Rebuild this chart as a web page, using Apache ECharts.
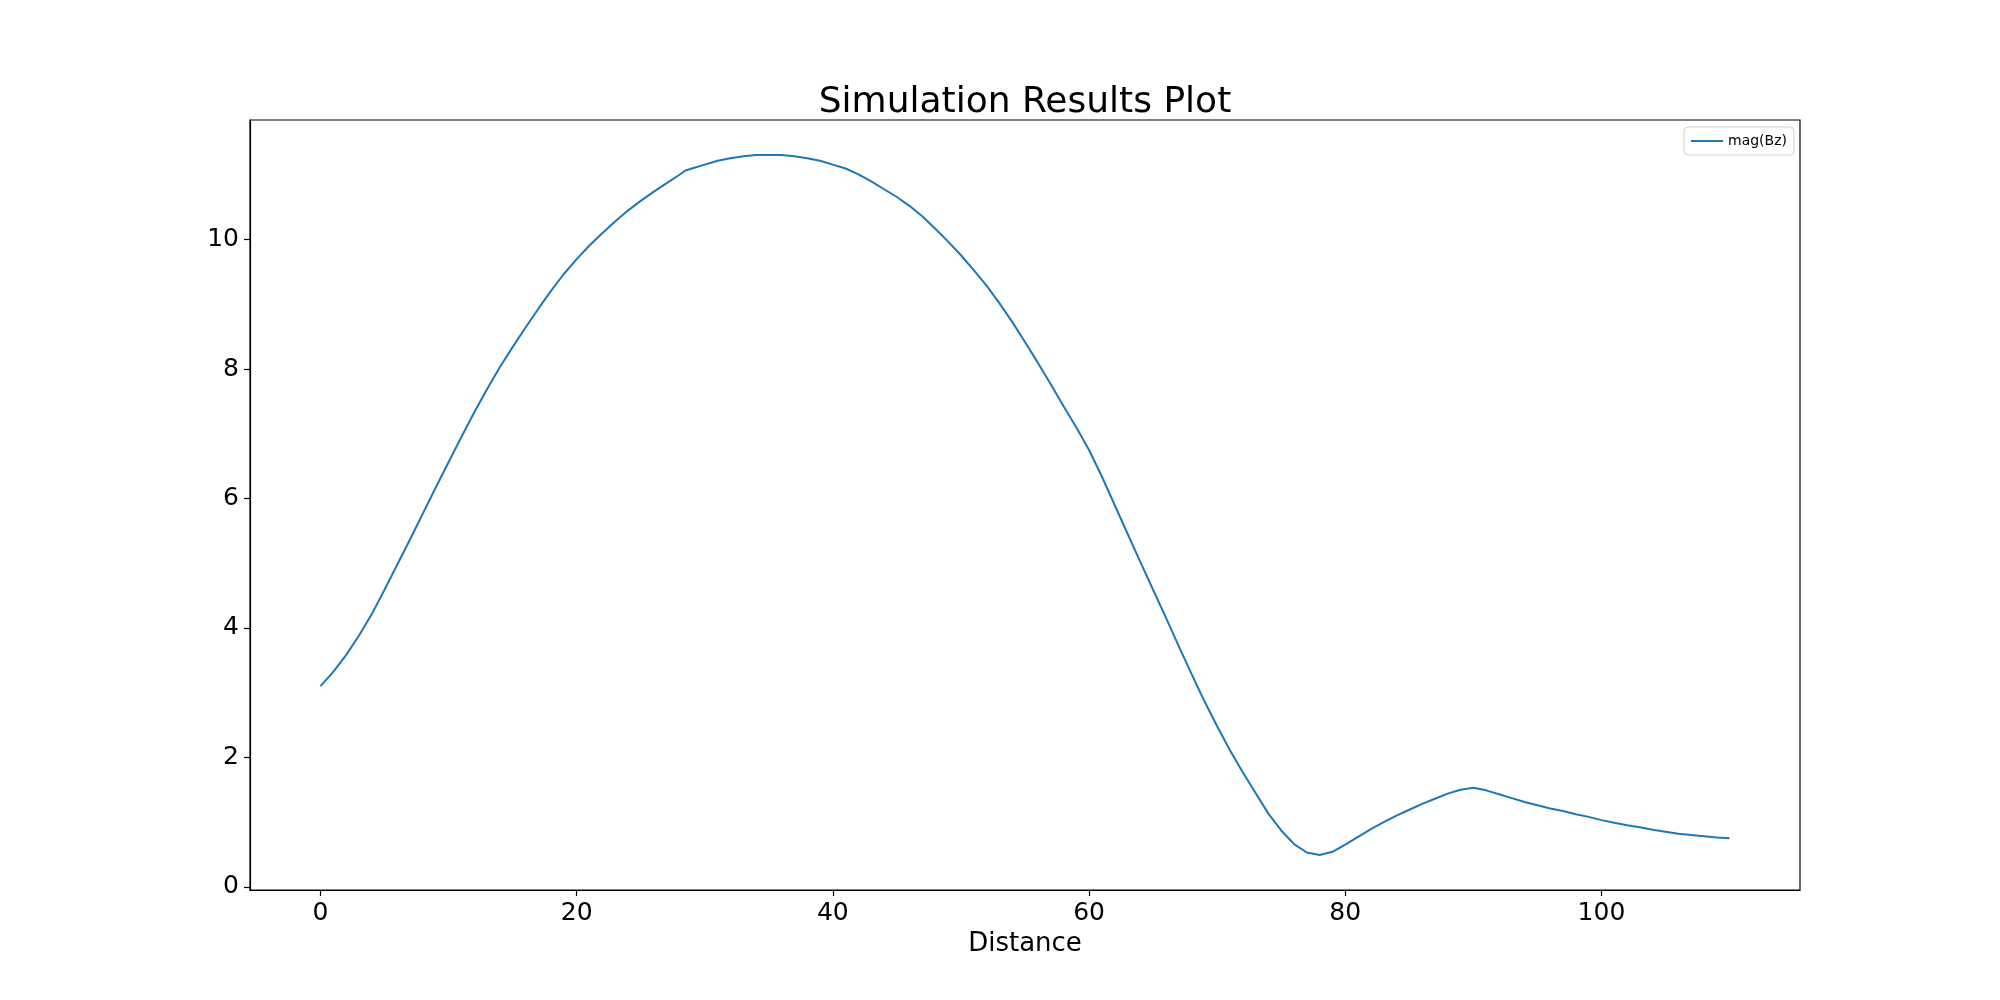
<!DOCTYPE html>
<html>
<head>
<meta charset="utf-8">
<script src="https://cdn.jsdelivr.net/npm/echarts@6/dist/echarts.min.js"></script>
<style>html,body{margin:0;padding:0;background:#fff;}#c{width:2000px;height:1000px;}</style>
</head>
<body>
<div id="c"></div>
<script>
const distance = [0,1,2,3,4,5,6,7,8,9,10,11,12,13,14,15,16,17,18,19,20,21,22,23,24,25,26,27,28,28.5,29,30,31,32,33,34,35,36,37,38,39,40,41,42,43,44,45,46,47,48,49,50,51,52,53,54,55,56,57,58,59,60,61,62,63,64,65,66,67,68,69,70,71,72,73,74,75,76,77,78,79,80,81,82,83,84,85,86,87,88,89,90,91,92,93,94,95,96,97,98,99,100,101,102,103,104,105,106,107,108,109,110];
const magBz = [3.10,3.32,3.58,3.88,4.21,4.59,4.98,5.37,5.77,6.17,6.56,6.95,7.33,7.69,8.03,8.34,8.64,8.93,9.21,9.47,9.70,9.91,10.10,10.28,10.45,10.60,10.74,10.87,11.00,11.07,11.10,11.16,11.22,11.26,11.29,11.31,11.31,11.31,11.29,11.26,11.22,11.16,11.10,11.01,10.90,10.78,10.66,10.52,10.36,10.17,9.97,9.76,9.53,9.29,9.02,8.73,8.42,8.10,7.77,7.43,7.10,6.75,6.34,5.90,5.46,5.02,4.59,4.16,3.72,3.29,2.87,2.48,2.11,1.77,1.45,1.13,0.87,0.66,0.53,0.49,0.54,0.65,0.77,0.89,1.00,1.10,1.19,1.28,1.36,1.44,1.50,1.53,1.49,1.43,1.37,1.31,1.26,1.21,1.17,1.12,1.08,1.03,0.99,0.95,0.92,0.88,0.85,0.82,0.80,0.78,0.76,0.75];
const xTicks = [0,20,40,60,80,100];
const yTicks = [0,2,4,6,8,10];
const titleText = 'Simulation Results Plot';
const xName = 'Distance';
const seriesName = 'mag(Bz)';

const chart = echarts.init(document.getElementById('c'));
const font = 'DejaVu Sans';
chart.setOption({
  animation: false,
  backgroundColor: '#fff',
  graphic: [{
    type: 'text', x: 1025, y: 103,
    style: {text: titleText, font: '36px "DejaVu Sans"', fill: '#000', textAlign: 'center', textVerticalAlign: 'middle'}
  }],
  legend: {
    right: 206, top: 127, data: [seriesName], icon: 'rect', itemWidth: 32, itemHeight: 2, itemGap: 8,
    padding: [7, 7, 7, 7], borderColor: '#d0d0d0', borderWidth: 1, borderRadius: 4,
    textStyle: {fontFamily: font, fontSize: 14, color: '#000'}
  },
  grid: {left: 250, right: 200, top: 120, bottom: 110, show: true, borderColor: '#000', borderWidth: 1.2, containLabel: false},
  xAxis: {
    type: 'value', min: -5.5, max: 115.5, name: xName, nameLocation: 'middle', nameGap: 40,
    nameTextStyle: {fontFamily: font, fontSize: 26, color: '#000'},
    axisLine: {show: true, onZero: false, lineStyle: {color: '#000', width: 1.2}},
    axisTick: {show: true, length: 6, lineStyle: {color: '#000', width: 1.2}, customValues: xTicks},
    axisLabel: {fontFamily: font, fontSize: 25, color: '#000', margin: 11, customValues: xTicks},
    splitLine: {show: false}
  },
  yAxis: {
    type: 'value', min: -0.05, max: 11.85,
    axisLine: {show: true, onZero: false, lineStyle: {color: '#000', width: 1.2}},
    axisTick: {show: true, length: 6, lineStyle: {color: '#000', width: 1.2}, customValues: yTicks},
    axisLabel: {fontFamily: font, fontSize: 25, color: '#000', margin: 11, customValues: yTicks},
    splitLine: {show: false}
  },
  series: [{
    name: seriesName, type: 'line', showSymbol: false, symbol: 'none',
    data: distance.map((d, i) => [d, magBz[i]]),
    lineStyle: {color: '#1f77b4', width: 2}, itemStyle: {color: '#1f77b4'}
  }]
});
</script>
</body>
</html>
